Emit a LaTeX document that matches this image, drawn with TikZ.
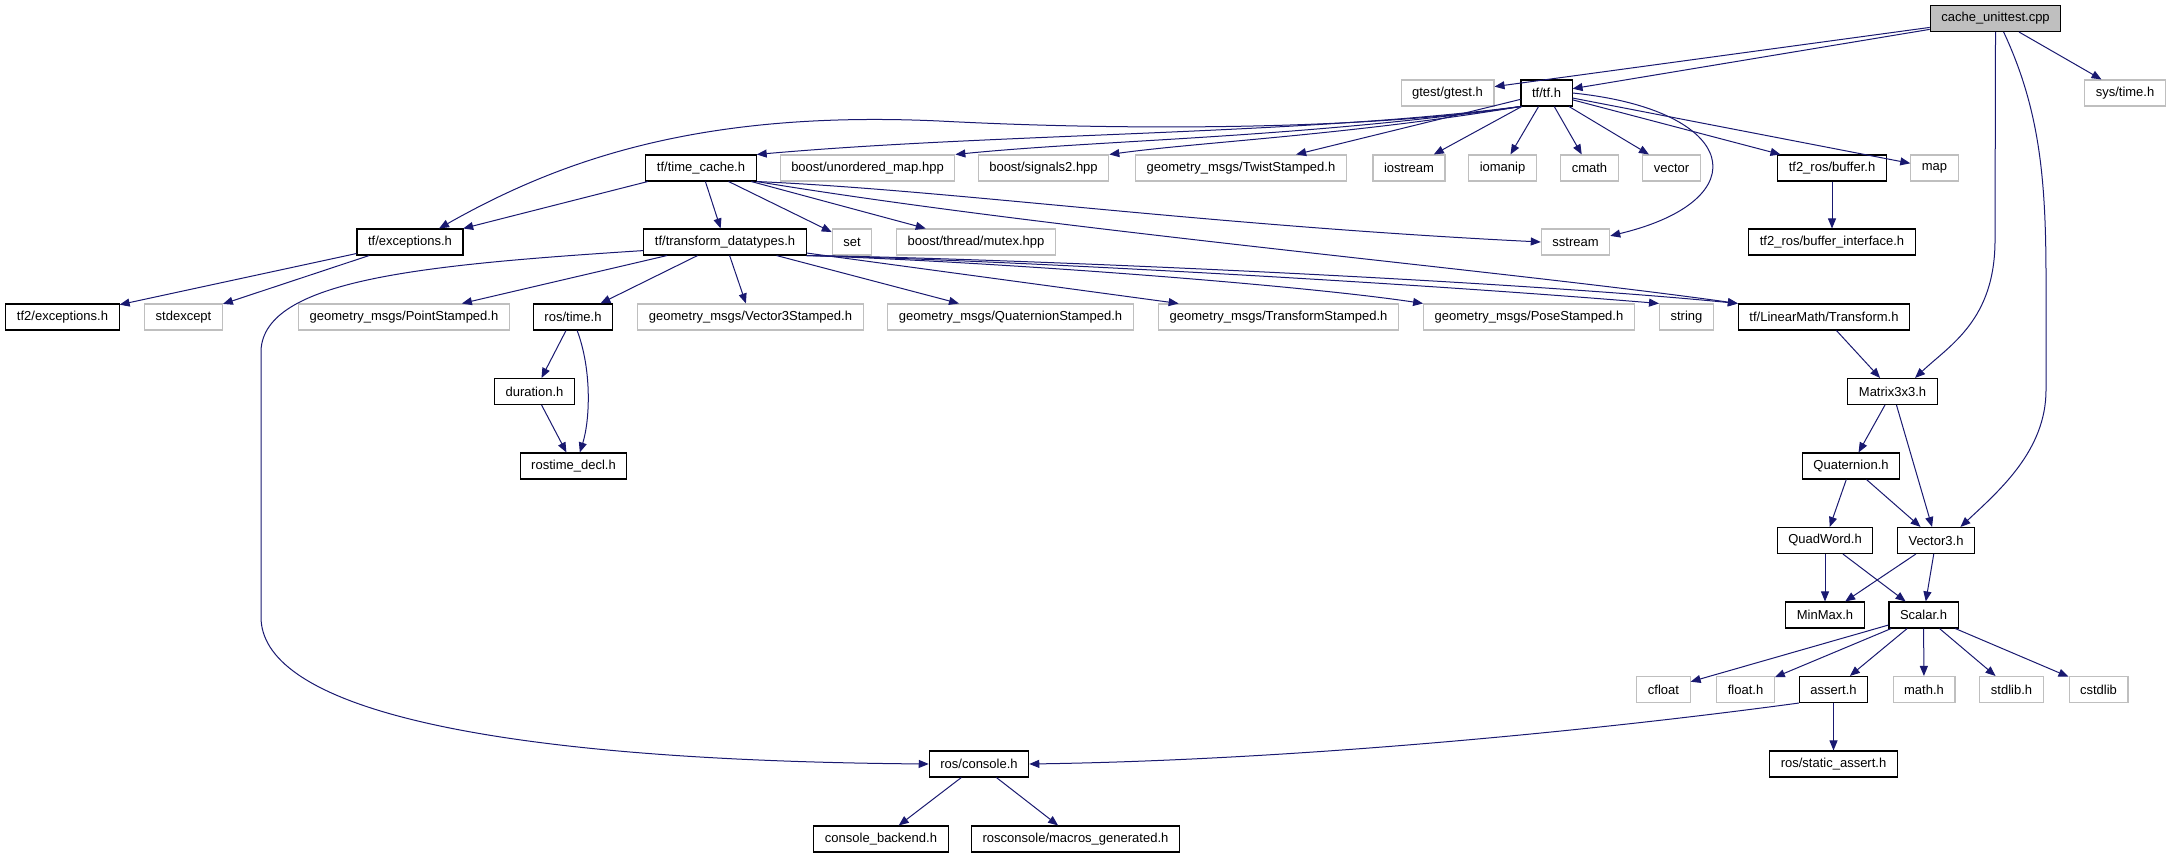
\documentclass[tikz,border=0pt]{standalone}
\usepackage{fontspec}
\setmainfont{Liberation Sans}
\usepackage{tikz}
\usetikzlibrary{arrows.meta,positioning}

\definecolor{edgeblue}{HTML}{191970}
\definecolor{extgray}{HTML}{BFBFBF}

\begin{document}
\begin{tikzpicture}[
    x=0.75pt, y=-0.75pt,
    header/.style={rectangle, draw=black, fill=white, line width=0.8pt, minimum height=19.5pt, inner xsep=8.3pt, inner ysep=0pt, font=\fontsize{9.75}{11}\selectfont},
    extern/.style={header, draw=extgray},
    source/.style={header, fill=extgray},
    arrow/.style={-{Triangle[length=7.5pt,width=6pt]}, line width=0.75pt, edgeblue}
]
    \useasboundingbox (0,0) rectangle (2172,859);

    % rank 0 and 1
    \node[source] (cache) at (1995.5,18.5) {cache\_unittest.cpp};
    \node[extern] (gtest) at (1447.5,93) {gtest/gtest.h};
    \node[header] (tfh) at (1546.5,93) {tf/tf.h};
    \node[extern] (systime) at (2125,93) {sys/time.h};

    % rank 2
    \node[header] (tcache) at (701,168) {tf/time\_cache.h};
    \node[extern] (umap) at (867.5,168) {boost/unordered\_map.hpp};
    \node[extern] (signals) at (1043.5,168) {boost/signals2.hpp};
    \node[extern] (twist) at (1241,168) {geometry\_msgs/TwistStamped.h};
    \node[extern] (iostream) at (1409,168) {iostream};
    \node[extern] (iomanip) at (1502.5,168) {iomanip};
    \node[extern] (cmath) at (1589.5,168) {cmath};
    \node[extern] (vector) at (1671.5,168) {vector};
    \node[header] (buffer) at (1832,168) {tf2\_ros/buffer.h};
    \node[extern] (map) at (1934.5,168) {map};

    % rank 3
    \node[header] (exc) at (410,242) {tf/exceptions.h};
    \node[header] (dtypes) at (725,242) {tf/transform\_datatypes.h};
    \node[extern] (set) at (852,242) {set};
    \node[extern] (mutex) at (976,242) {boost/thread/mutex.hpp};
    \node[extern] (sstream) at (1575.5,242) {sstream};
    \node[header] (bufif) at (1832,242) {tf2\_ros/buffer\_interface.h};

    % rank 4
    \node[header] (tfexc) at (62.5,317) {tf2/exceptions.h};
    \node[extern] (stdexc) at (183.5,317) {stdexcept};
    \node[extern] (point) at (404,317) {geometry\_msgs/PointStamped.h};
    \node[header] (rtime) at (573,317) {ros/time.h};
    \node[extern] (v3st) at (750.5,317) {geometry\_msgs/Vector3Stamped.h};
    \node[extern] (qst) at (1010.5,317) {geometry\_msgs/QuaternionStamped.h};
    \node[extern] (tst) at (1278.5,317) {geometry\_msgs/TransformStamped.h};
    \node[extern] (pose) at (1529,317) {geometry\_msgs/PoseStamped.h};
    \node[extern] (string) at (1686.5,317) {string};
    \node[header] (trans) at (1824,317) {tf/LinearMath/Transform.h};

    % rank 5 to 8
    \node[header] (dur) at (534.5,391.5) {duration.h};
    \node[header] (m33) at (1892.5,391.5) {Matrix3x3.h};
    \node[header] (rdecl) at (573.5,466) {rostime\_decl.h};
    \node[header] (quat) at (1851,466) {Quaternion.h};
    \node[header] (qword) at (1825,540.5) {QuadWord.h};
    \node[header] (vec3) at (1936,540.5) {Vector3.h};
    \node[header] (minmax) at (1825,615) {MinMax.h};
    \node[header] (scalar) at (1923.5,615) {Scalar.h};

    % rank 9 to 11
    \node[extern] (cfloat) at (1663.5,689.5) {cfloat};
    \node[extern] (floath) at (1745.5,689.5) {float.h};
    \node[header] (assert) at (1833.5,689.5) {assert.h};
    \node[extern] (math) at (1924,689.5) {math.h};
    \node[extern] (stdlib) at (2011.5,689.5) {stdlib.h};
    \node[extern] (cstdlib) at (2098.5,689.5) {cstdlib};
    \node[header] (console) at (979,764) {ros/console.h};
    \node[header] (sassert) at (1833.5,764) {ros/static\_assert.h};
    \node[header] (backend) at (881,839) {console\_backend.h};
    \node[header] (macros) at (1075.5,839) {rosconsole/macros\_generated.h};

    % cache_unittest.cpp
    \draw[arrow] (cache) -- (gtest);
    \draw[arrow] (cache) -- (tfh);
    \draw[arrow] (cache) -- (systime);
    \draw[arrow] (cache.south) -- (1995,240) .. controls (1995,320) and (1950,345) .. (m33.31);
    \draw[arrow] (cache.-59) .. controls (2040,110) and (2046,180) .. (2046,280) -- (2046,390) .. controls (2046,450) and (2000,490) .. (vec3.29);

    % tf/tf.h
    \draw[arrow] (tfh.south west) .. controls (1380,128) and (1150,132) .. (939,121) .. controls (700,110) and (560,160) .. (exc.25);
    \draw[arrow] (tfh.south west) .. controls (1300,135) and (1000,133) .. (tcache.north east);
    \draw[arrow] (tfh.south west) .. controls (1300,138) and (1100,140) .. (umap.north east);
    \draw[arrow] (tfh.south west) .. controls (1350,135) and (1200,142) .. (signals.north east);
    \draw[arrow] (tfh) -- (twist);
    \draw[arrow] (tfh) -- (iostream);
    \draw[arrow] (tfh) -- (iomanip);
    \draw[arrow] (tfh) -- (cmath);
    \draw[arrow] (tfh) -- (vector);
    \draw[arrow] (tfh) -- (buffer);
    \draw[arrow] (tfh) -- (map);
    \draw[arrow] (tfh.east) .. controls (1740,110) and (1760,200) .. (sstream.10);
    \draw[arrow] (buffer) -- (bufif);

    % tf/time_cache.h
    \draw[arrow] (tcache) -- (exc);
    \draw[arrow] (tcache) -- (dtypes);
    \draw[arrow] (tcache) -- (set);
    \draw[arrow] (tcache) -- (mutex);
    \draw[arrow] (tcache.south east) .. controls (950,190) and (1200,225) .. (sstream.west);
    \draw[arrow] (tcache.south east) .. controls (1050,230) and (1500,270) .. (trans.north west);

    % tf/exceptions.h
    \draw[arrow] (exc) -- (tfexc);
    \draw[arrow] (exc) -- (stdexc);

    % tf/transform_datatypes.h
    \draw[arrow] (dtypes.186) .. controls (420,265) and (265,280) .. (261,350) -- (261,617) .. controls (261,700) and (450,760) .. (console.west);
    \draw[arrow] (dtypes) -- (point);
    \draw[arrow] (dtypes) -- (rtime);
    \draw[arrow] (dtypes) -- (v3st);
    \draw[arrow] (dtypes) -- (qst);
    \draw[arrow] (dtypes) -- (tst);
    \draw[arrow] (dtypes.south east) .. controls (1000,262) and (1300,285) .. (pose.north west);
    \draw[arrow] (dtypes.south east) .. controls (1000,260) and (1400,282) .. (string.north west);
    \draw[arrow] (dtypes.south east) .. controls (1000,258) and (1500,280) .. (trans.north west);

    % ros/time.h
    \draw[arrow] (rtime) -- (dur);
    \draw[arrow] (rtime.-73) .. controls (592,370) and (590,420) .. (rdecl.65);
    \draw[arrow] (dur) -- (rdecl);

    % LinearMath
    \draw[arrow] (trans) -- (m33);
    \draw[arrow] (m33) -- (quat);
    \draw[arrow] (m33) -- (vec3);
    \draw[arrow] (quat) -- (qword);
    \draw[arrow] (quat) -- (vec3);
    \draw[arrow] (qword) -- (minmax);
    \draw[arrow] (qword) -- (scalar);
    \draw[arrow] (vec3) -- (minmax);
    \draw[arrow] (vec3) -- (scalar);
    \draw[arrow] (scalar) -- (cfloat);
    \draw[arrow] (scalar) -- (floath);
    \draw[arrow] (scalar) -- (assert);
    \draw[arrow] (scalar) -- (math);
    \draw[arrow] (scalar) -- (stdlib);
    \draw[arrow] (scalar) -- (cstdlib);

    % assert.h and ros/console.h
    \draw[arrow] (assert) -- (sassert);
    \draw[arrow] (assert.south west) .. controls (1600,730) and (1300,760) .. (console.east);
    \draw[arrow] (console) -- (backend);
    \draw[arrow] (console) -- (macros);
\end{tikzpicture}
\end{document}
